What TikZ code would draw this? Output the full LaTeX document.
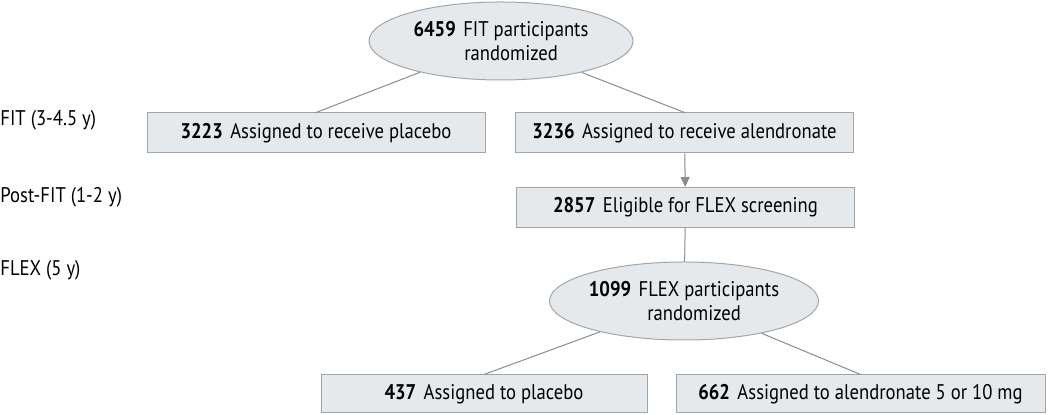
\documentclass[tikz,border=0pt]{standalone}
\usepackage{fontspec}
\setmainfont[FakeStretch=0.88]{PT Sans}
\usetikzlibrary{shapes.geometric,arrows.meta}

\definecolor{boxfill}{HTML}{E6E9EC}
\definecolor{boxline}{HTML}{A3A6A9}
\definecolor{linkline}{HTML}{8C8C8C}

\begin{document}
\begin{tikzpicture}[x=0.5pt, y=-0.5pt, font=\fontsize{10.6}{12}\selectfont,
    block/.style={draw=boxline, fill=boxfill, line width=0.5pt, minimum width=169pt, minimum height=20pt, inner sep=0pt},
    oval/.style={ellipse, draw=boxline, fill=boxfill, line width=0.5pt, minimum width=132pt, minimum height=39pt, inner sep=0pt, align=center},
    stage/.style={anchor=west, inner sep=0pt},
    link/.style={draw=linkline, line width=0.5pt},]
    \useasboundingbox (0,0) rectangle (1050,415);
    \node[oval] (fit) at (501,41) {\textbf{6459}\hspace{0.35em}FIT participants\\ \hspace{0.95em}randomized};
    \node[block] (placebo) at (316,133) {\textbf{3223}\hspace{0.35em}Assigned to receive placebo};
    \node[block] (alen) at (684.5,133) {\textbf{3236}\hspace{0.35em}Assigned to receive alendronate};
    \node[block] (elig) at (685.5,207.5) {\textbf{2857}\hspace{0.35em}Eligible for FLEX screening};
    \node[oval] (flex) at (684,301) {\textbf{1099}\hspace{0.35em}FLEX participants\\ \hspace{0.95em}randomized};
    \node[block, minimum width=163pt, minimum height=19pt] (flexpl) at (484,394) {\textbf{437}\hspace{0.35em}Assigned to placebo};
    \node[block, minimum width=184.5pt, minimum height=19pt] (flexal) at (860.5,394) {\textbf{662}\hspace{0.35em}Assigned to alendronate 5 or 10 mg};
    % study phases
    \node[stage] (phfit) at (0,120) {FIT (3-4.5 y)};
    \node[stage] (phpost) at (0,197) {Post-FIT (1-2 y)};
    \node[stage] (phflex) at (0,270) {FLEX (5 y)};
    \draw[link] (fit) -- (placebo.north);
    \draw[link] (fit) -- (alen.north);
    \draw[link, -{Triangle[length=5pt, width=4.5pt]}, fill=linkline] (alen) -- (elig);
    \draw[link] (elig) -- (flex);
    \draw[link] (flex) -- (flexpl.north);
    \draw[link] (flex) -- (flexal.north);
\end{tikzpicture}
\end{document}
